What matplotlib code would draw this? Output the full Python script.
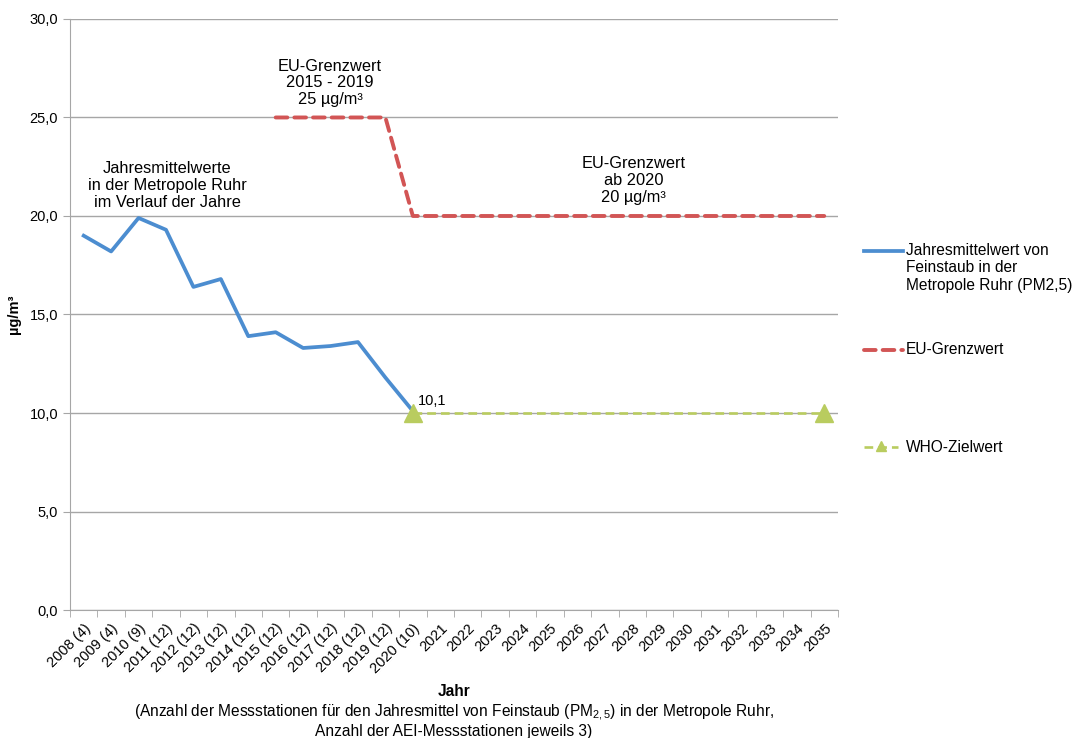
import numpy as np
import matplotlib.pyplot as plt
from matplotlib.lines import Line2D
from matplotlib.ticker import FuncFormatter

plt.rcParams['font.family'] = ['Liberation Sans', 'DejaVu Sans']
plt.rcParams['mathtext.fontset'] = 'custom'
plt.rcParams['mathtext.rm'] = 'Liberation Sans'
plt.rcParams['mathtext.it'] = 'Liberation Sans:italic'
plt.rcParams['mathtext.bf'] = 'Liberation Sans:bold'

# Daten
years = ['2008 (4)', '2009 (4)', '2010 (9)', '2011 (12)', '2012 (12)', '2013 (12)',
         '2014 (12)', '2015 (12)', '2016 (12)', '2017 (12)', '2018 (12)', '2019 (12)',
         '2020 (10)', '2021', '2022', '2023', '2024', '2025', '2026', '2027', '2028',
         '2029', '2030', '2031', '2032', '2033', '2034', '2035']
pm25 = [19.0, 18.2, 19.9, 19.3, 16.4, 16.8, 13.9, 14.1, 13.3, 13.4, 13.6, 11.8, 10.1]
eu_limit = [np.nan] * 7 + [25] * 5 + [20] * 16
who_target = [np.nan] * 12 + [10] * 16

BLUE = '#4C8DD0'
RED = '#D25555'
GREEN = '#B9CC5F'
GRID = '#A6A6A6'

fig = plt.figure(figsize=(10.75, 7.38), dpi=100)
ax = fig.add_axes([0.0651, 0.1734, 0.7144, 0.8009])

x = np.arange(len(years))
ax.plot(x[:len(pm25)], pm25, color=BLUE, lw=2.7, solid_joinstyle='round', zorder=4)
ax.plot(x, eu_limit, color=RED, lw=2.8, dashes=(3.0, 1.8), dash_capstyle='round', zorder=3)
ax.plot(x, who_target, color=GREEN, lw=1.9, dashes=(3.3, 1.9), zorder=3)
ax.plot([x[12], x[-1]], [who_target[12], who_target[-1]], ls='none', marker='^',
        ms=13, color=GREEN, zorder=5)

ax.set_xlim(-0.5, len(years) - 0.5)
ax.set_ylim(0, 30)
ax.set_yticks(np.arange(0, 31, 5))
ax.yaxis.set_major_formatter(FuncFormatter(lambda v, p: f'{v:.1f}'.replace('.', ',')))
ax.grid(axis='y', color=GRID, lw=1)
ax.set_axisbelow(True)

ax.set_xticks(x)
ax.set_xticklabels(years, rotation=45, ha='right', rotation_mode='anchor', fontsize=10.5)
ax.set_xticks(np.arange(-0.5, len(years)), minor=True)
ax.tick_params(axis='x', which='major', length=0, pad=8)
ax.tick_params(axis='x', which='minor', length=5, color=GRID)
ax.tick_params(axis='y', length=5, color=GRID, labelsize=10.5)

for s in ['top', 'right']:
    ax.spines[s].set_visible(False)
for s in ['left', 'bottom']:
    ax.spines[s].set_color(GRID)

ax.set_ylabel('µg/m³', fontweight='bold', fontsize=10.5, labelpad=6)

# Beschriftungen im Diagramm
ax.text(3.05, 21.55, 'Jahresmittelwerte\nin der Metropole Ruhr\nim Verlauf der Jahre',
        ha='center', va='center', fontsize=11.8, linespacing=1.15)
ax.text(8.98, 26.75, 'EU-Grenzwert\n2015 - 2019\n25 µg/m³',
        ha='center', va='center', fontsize=11.8, linespacing=1.15)
ax.text(20.05, 21.8, 'EU-Grenzwert\nab 2020\n20 µg/m³',
        ha='center', va='center', fontsize=11.8, linespacing=1.15)
ax.text(12.2, 10.6, '10,1', ha='left', va='center', fontsize=10.5)

# Achsentitel unten
fig.text(0.4223, 1 - 691 / 738, 'Jahr', ha='center', va='center', fontweight='bold', fontsize=11.2)
fig.text(0.4223, 1 - 721 / 738,
         '(Anzahl der Messstationen für den Jahresmittel von Feinstaub (PM$_{2,5}$) in der Metropole Ruhr,\n'
         'Anzahl der AEI-Messstationen jeweils 3)',
         ha='center', va='center', fontsize=11.2, linespacing=1.05)

# Legende
def fy(py):
    return 1 - py / 738

fig.add_artist(Line2D([864 / 1075, 903 / 1075], [fy(251), fy(251)], color=BLUE, lw=2.7))
fig.text(906 / 1075, fy(268), 'Jahresmittelwert von\nFeinstaub in der\nMetropole Ruhr (PM2,5)',
         ha='left', va='center', fontsize=11.2, linespacing=1.2)
fig.add_artist(Line2D([864 / 1075, 903 / 1075], [fy(350), fy(350)], color=RED, lw=2.8,
                      dashes=(3.0, 1.8), dash_capstyle='round'))
fig.text(906 / 1075, fy(350), 'EU-Grenzwert', ha='left', va='center', fontsize=11.2)
fig.add_artist(Line2D([864 / 1075, 898 / 1075], [fy(447), fy(447)], color=GREEN, lw=1.9,
                      dashes=(3.3, 1.9)))
fig.add_artist(Line2D([881 / 1075], [fy(446)], color=GREEN, marker='^', ms=7, ls='none'))
fig.text(906 / 1075, fy(447), 'WHO-Zielwert', ha='left', va='center', fontsize=11.2)

fig.savefig('out.png', dpi=100)
